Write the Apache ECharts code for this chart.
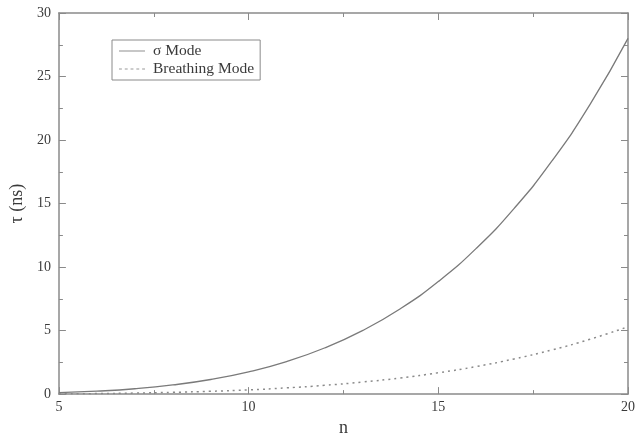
<!DOCTYPE html>
<html><head><meta charset="utf-8">
<script src="https://cdn.jsdelivr.net/npm/echarts@6/dist/echarts.min.js"></script>
<style>html,body{margin:0;padding:0;background:#fff}#c{width:638px;height:442px}</style>
</head><body><div id="c"></div>
<script>
var nValues = [5, 6, 7, 8, 9, 10, 11, 12, 13, 14, 15, 16, 17, 18, 19, 20];
var sigmaMode = [0.11, 0.23, 0.42, 0.72, 1.15, 1.75, 2.56, 3.63, 5.0, 6.72, 8.86, 11.47, 14.62, 18.37, 22.8, 28.0];
var breathingMode = [0.02, 0.04, 0.08, 0.14, 0.22, 0.33, 0.49, 0.69, 0.95, 1.27, 1.68, 2.17, 2.77, 3.48, 4.32, 5.3];
var seriesNames = ['σ Mode', 'Breathing Mode'];

function pairs(ys){ return nValues.map(function(n,i){ return [n, ys[i]]; }); }

var font = 'Liberation Serif';
var axisCol = '#8a8a8a';
var textCol = '#3a3a3a';

function xAx(pos, show){
  return {type:'value', position:pos, min:5, max:20, interval:5,
    axisLine:{show:true, onZero:false, lineStyle:{color:axisCol, width:1.5}},
    axisTick:{show:true, inside:true, length:7, lineStyle:{color:axisCol}},
    minorTick:{show:true, splitNumber:2, length:4, lineStyle:{color:axisCol}},
    splitLine:{show:false},
    axisLabel:{show:show, fontFamily:font, fontSize:14, color:textCol, margin:6},
    name: show ? 'n' : '', nameLocation:'middle', nameGap:22,
    nameTextStyle:{fontFamily:font, fontSize:18, color:textCol}};
}
function yAx(pos, show){
  return {type:'value', position:pos, min:0, max:30, interval:5,
    axisLine:{show:true, onZero:false, lineStyle:{color:axisCol, width:1.5}},
    axisTick:{show:true, inside:true, length:7, lineStyle:{color:axisCol}},
    minorTick:{show:true, splitNumber:2, length:4, lineStyle:{color:axisCol}},
    splitLine:{show:false},
    axisLabel:{show:show, fontFamily:font, fontSize:14, color:textCol, margin:8},
    name: show ? 'τ (ns)' : '', nameLocation:'middle', nameGap:32,
    nameTextStyle:{fontFamily:font, fontSize:18, color:textCol}};
}

var dashIcon = 'path://M0,0h3v1h-3z M6,0h3v1h-3z M12,0h3v1h-3z M18,0h3v1h-3z M24,0h3v1h-3z';
var solidIcon = 'path://M0,0h27v1h-27z';

var chart = echarts.init(document.getElementById('c'), null, {renderer:'canvas'});
chart.setOption({
  animation:false,
  backgroundColor:'#fff',
  grid:{left:57, right:8, top:13, bottom:35},
  legend:{
    left:112, top:40, orient:'vertical', itemGap:2, itemWidth:26, itemHeight:1.2,
    padding:[3,6,3,7], borderColor:'#8a8a8a', borderWidth:1,
    textStyle:{fontFamily:font, fontSize:15.5, color:textCol, padding:[0,0,0,3]},
    data:[{name:seriesNames[0], icon:solidIcon, itemStyle:{color:'#8a8a8a'}},
          {name:seriesNames[1], icon:dashIcon, itemStyle:{color:'#9a9a9a'}}]
  },
  xAxis:[xAx('bottom', true), xAx('top', false)],
  yAxis:[yAx('left', true), yAx('right', false)],
  series:[
    {name:seriesNames[0], type:'line', smooth:true, showSymbol:false, data:pairs(sigmaMode),
     lineStyle:{color:'#7a7a7a', width:1.3, type:'solid'}, itemStyle:{color:'#7a7a7a'}},
    {name:seriesNames[1], type:'line', smooth:true, showSymbol:false, data:pairs(breathingMode),
     lineStyle:{color:'#8a8a8a', width:1.5, type:[2,4]}, itemStyle:{color:'#8a8a8a'}}
  ]
});
</script></body></html>
